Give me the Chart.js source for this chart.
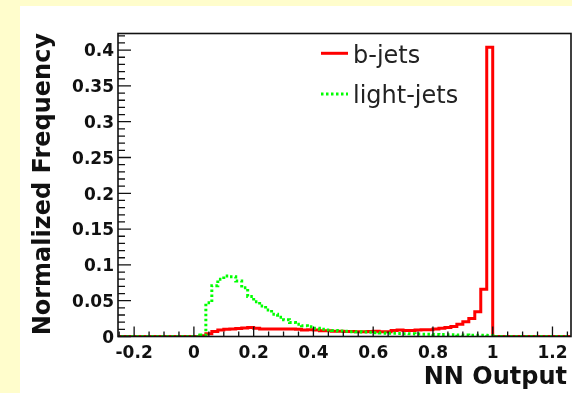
<!DOCTYPE html>
<html>
<head>
<meta charset="utf-8">
<script src="https://cdn.jsdelivr.net/npm/chart.js@4.4.0/dist/chart.umd.min.js"></script>
<style>
  html, body { margin: 0; padding: 0; background: #fffdcc; }
  canvas { display: block; }
</style>
</head>
<body>
<canvas id="nnChart" width="572" height="393"></canvas>
<script>
/* ========= Binning ========= */
const BIN_LOW = -0.26;   // low edge of first bin
const BIN_WIDTH = 0.02;

/* ========= Histogram contents (normalized) ========= */
const bJets = [
  0, 0, 0, 0, 0, 0, 0, 0, 0, 0, 0, 0, 0, 0, 0.001,
  0.004, 0.007, 0.009, 0.010, 0.0105, 0.011, 0.012, 0.0125, 0.0115,
  0.0105, 0.0105, 0.0105, 0.0105, 0.0105, 0.0105, 0.010,
  0.009, 0.0095, 0.009, 0.008, 0.008, 0.0075, 0.0075, 0.007, 0.007,
  0.0065, 0.0065, 0.007, 0.0075, 0.0065, 0.0065, 0.0085, 0.009, 0.0085,
  0.0085, 0.009, 0.0095, 0.0095, 0.0105, 0.0115, 0.0125, 0.014, 0.017,
  0.0205, 0.025, 0.0345, 0.066, 0.404,
  0, 0, 0, 0, 0, 0, 0, 0, 0, 0, 0, 0, 0
];
const lightJets = [
  0, 0, 0, 0, 0, 0, 0, 0, 0, 0, 0, 0, 0, 0, 0.002,
  0.047, 0.071, 0.080, 0.0845, 0.0835, 0.0775, 0.068, 0.056, 0.0485,
  0.0425, 0.037, 0.031, 0.027, 0.0235, 0.0195, 0.017,
  0.015, 0.0135, 0.0115, 0.010, 0.0092, 0.0085, 0.0078, 0.0072, 0.0068,
  0.0066, 0.0062, 0.0058, 0.0052, 0.005, 0.0047, 0.0045, 0.0043, 0.004,
  0.0038, 0.0035, 0.0033, 0.0031, 0.0029, 0.0027, 0.0025, 0.0023, 0.0021,
  0.002, 0.0018, 0.0017, 0.0016, 0.0015,
  0, 0, 0, 0, 0, 0, 0, 0, 0, 0, 0, 0, 0
];

/* ========= Axes ========= */
const X_MIN = -0.254, X_MAX = 1.262;
const Y_MIN = 0, Y_MAX = 0.4232;
const xTickValues = [-0.2, 0, 0.2, 0.4, 0.6, 0.8, 1, 1.2];
const xTickLabels = ["-0.2", "0", "0.2", "0.4", "0.6", "0.8", "1", "1.2"];
const yTickValues = [0, 0.05, 0.1, 0.15, 0.2, 0.25, 0.3, 0.35, 0.4];
const yTickLabels = ["0", "0.05", "0.1", "0.15", "0.2", "0.25", "0.3", "0.35", "0.4"];
const X_MINOR_STEP = 0.05, Y_MINOR_STEP = 0.01;
const xTitle = "NN Output";
const yTitle = "Normalized Frequency";

/* ========= Helpers ========= */
// bin contents -> step points at the bin edges (last bin closed at its high edge)
function toSteps(values) {
  const pts = values.map((v, i) => ({ x: +(BIN_LOW + i * BIN_WIDTH).toFixed(3), y: v }));
  pts.push({ x: +(BIN_LOW + values.length * BIN_WIDTH).toFixed(3), y: values[values.length - 1] });
  return pts;
}

const BOLD = "bold 17px 'DejaVu Sans'";
const TITLE = "bold 24px 'DejaVu Sans'";
const LEGEND = "24px 'DejaVu Sans'";

/* ========= Frame, ticks, labels, legend (ROOT look) ========= */
const rootFrame = {
  id: "rootFrame",
  beforeDraw(chart) {
    const c = chart.ctx;
    c.save();
    c.fillStyle = "#fffdcc";
    c.fillRect(0, 0, chart.width, chart.height);
    c.fillStyle = "#ffffff";
    c.fillRect(20, 6, chart.width - 20, chart.height - 6);
    c.restore();
  },
  afterDatasetsDraw(chart) {
    const c = chart.ctx;
    const a = chart.chartArea;
    const xs = chart.scales.x, ys = chart.scales.y;
    c.save();
    c.strokeStyle = "#111";
    c.lineWidth = 1.6;
    c.strokeRect(a.left, a.top, a.right - a.left, a.bottom - a.top);

    // x ticks point up into the frame
    c.lineWidth = 1.3;
    c.beginPath();
    for (let k = Math.ceil(X_MIN / X_MINOR_STEP); k * X_MINOR_STEP <= X_MAX; k++) {
      const v = +(k * X_MINOR_STEP).toFixed(3);
      const px = xs.getPixelForValue(v);
      const major = xTickValues.some(t => Math.abs(t - v) < 1e-6);
      c.moveTo(px, a.bottom);
      c.lineTo(px, a.bottom - (major ? 10 : 5));
    }
    // y ticks point right into the frame
    for (let k = 0; k * Y_MINOR_STEP <= Y_MAX; k++) {
      const v = +(k * Y_MINOR_STEP).toFixed(3);
      const py = ys.getPixelForValue(v);
      const major = yTickValues.some(t => Math.abs(t - v) < 1e-6);
      c.moveTo(a.left, py);
      c.lineTo(a.left + (major ? 13 : 7), py);
    }
    c.stroke();

    // tick labels
    c.fillStyle = "#111";
    c.font = BOLD;
    c.textBaseline = "alphabetic";
    c.textAlign = "center";
    xTickValues.forEach((v, i) => c.fillText(xTickLabels[i], xs.getPixelForValue(v), 357.5));
    c.textAlign = "right";
    yTickValues.forEach((v, i) => c.fillText(yTickLabels[i], 114, ys.getPixelForValue(v) + 6.2));

    // axis titles
    c.font = TITLE;
    c.textAlign = "right";
    c.fillText(xTitle, 567, 384);
    c.save();
    c.translate(50, 33);
    c.rotate(-Math.PI / 2);
    c.textAlign = "right";
    c.fillText(yTitle, 0, 0);
    c.restore();

    // legend
    const entries = [
      { ds: chart.data.datasets[1], y: 53.3, base: 62.5 },
      { ds: chart.data.datasets[0], y: 94, base: 103 }
    ];
    c.font = LEGEND;
    c.textAlign = "left";
    entries.forEach(e => {
      c.save();
      c.strokeStyle = e.ds.borderColor;
      c.lineWidth = e.ds.borderWidth;
      c.setLineDash(e.ds.borderDash || []);
      c.beginPath();
      c.moveTo(321, e.y);
      c.lineTo(348, e.y);
      c.stroke();
      c.restore();
      c.fillStyle = "#222";
      c.fillText(e.ds.label, 353, e.base);
    });
    c.restore();
  }
};

/* ========= Chart ========= */
const ctx = document.getElementById("nnChart").getContext("2d");
new Chart(ctx, {
  type: "line",
  data: {
    datasets: [
      {
        label: "light-jets",
        data: toSteps(lightJets),
        borderColor: "#00ff00",
        borderWidth: 3,
        borderDash: [2.5, 2.5],
        stepped: true,
        pointRadius: 0,
        fill: false,
        order: 1
      },
      {
        label: "b-jets",
        data: toSteps(bJets),
        borderColor: "#ff0000",
        borderWidth: 3,
        stepped: true,
        pointRadius: 0,
        fill: false,
        order: 2
      }
    ]
  },
  options: {
    responsive: false,
    animation: false,
    devicePixelRatio: 1,
    layout: { padding: { top: 33.5, right: 1, left: 0, bottom: 0 } },
    plugins: { legend: { display: false }, tooltip: { enabled: false } },
    scales: {
      x: {
        type: "linear", min: X_MIN, max: X_MAX,
        grid: { display: false }, border: { display: false },
        ticks: { display: false },
        afterFit: s => { s.height = 56.5; }
      },
      y: {
        type: "linear", min: Y_MIN, max: Y_MAX,
        grid: { display: false }, border: { display: false },
        ticks: { display: false },
        afterFit: s => { s.width = 118; }
      }
    }
  },
  plugins: [rootFrame]
});
</script>
</body>
</html>
